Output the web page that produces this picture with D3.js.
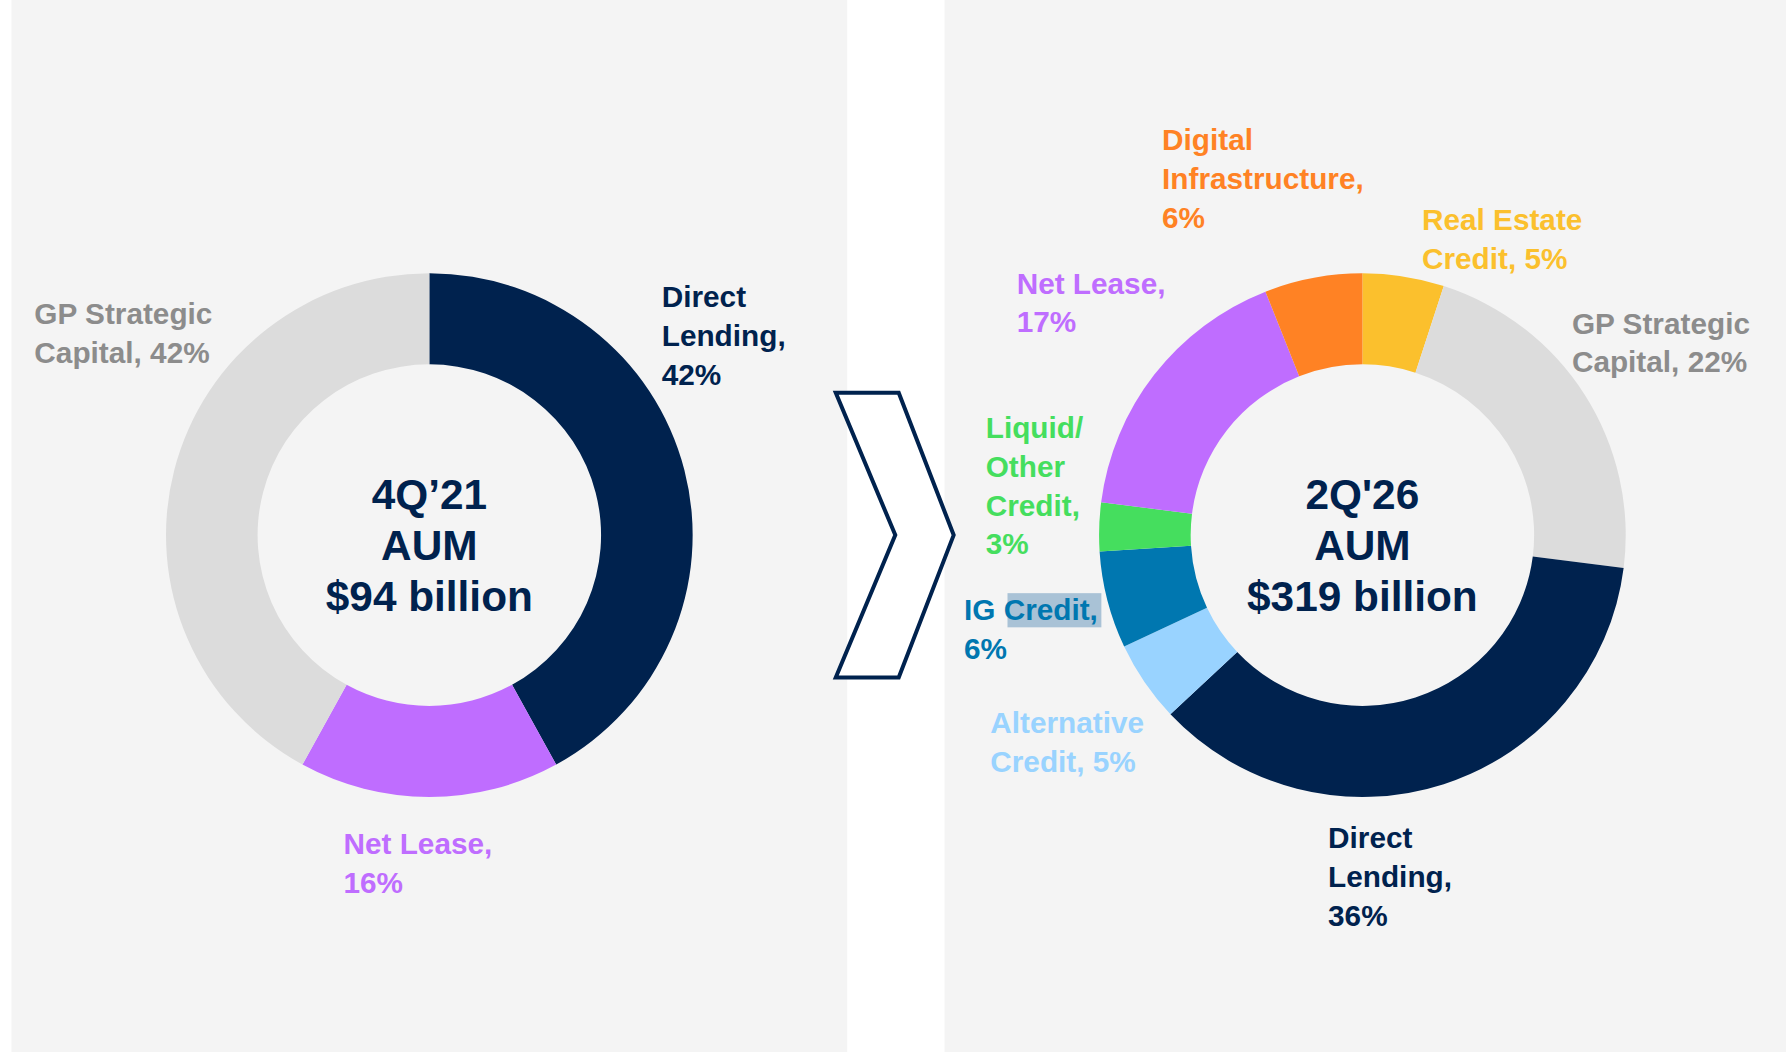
<!DOCTYPE html>
<html><head><meta charset="utf-8">
<script src="https://cdn.jsdelivr.net/npm/d3@7"></script>
<style>body{margin:0;background:#fff}text{font-family:"Liberation Sans",Arial,sans-serif;font-weight:bold}</style>
</head><body>
<script>
// data
const leftCats = ["Direct Lending", "Net Lease", "GP Strategic Capital"];
const leftVals = [42, 16, 42];
const leftColors = ["#00224e", "#bf6dff", "#dcdcdc"];
const rightCats = ["Real Estate Credit", "GP Strategic Capital", "Direct Lending", "Alternative Credit", "IG Credit", "Liquid/Other Credit", "Net Lease", "Digital Infrastructure"];
const rightVals = [5, 22, 36, 5, 6, 3, 17, 6];
const rightColors = ["#fbc02d", "#dcdcdc", "#00224e", "#99d3ff", "#0077b0", "#45de5e", "#bf6dff", "#ff8224"];
const leftCenter = ["4Q\u201921", "AUM", "$94 billion"];
const rightCenter = ["2Q'26", "AUM", "$319 billion"];

const leftLabels = [
  {lines: ["GP Strategic", "Capital, 42%"], x: 30, y: 285, c: "#8c8c8c"},
  {lines: ["Direct", "Lending,", "42%"], x: 578, y: 270, c: "#00224e"},
  {lines: ["Net Lease,", "16%"], x: 300, y: 750, c: "#bf6dff"}
];
const rightLabels = [
  {lines: ["Digital", "Infrastructure,", "6%"], x: 1015, y: 132, c: "#ff8224"},
  {lines: ["Real Estate", "Credit, 5%"], x: 1242, y: 202, c: "#fbc02d"},
  {lines: ["Net Lease,", "17%"], x: 888, y: 258, c: "#bf6dff"},
  {lines: ["GP Strategic", "Capital, 22%"], x: 1373, y: 293, c: "#8c8c8c"},
  {lines: ["Liquid/", "Other", "Credit,", "3%"], x: 861, y: 385, c: "#45de5e"},
  {lines: ["IG Credit,", "6%"], x: 842, y: 545, c: "#0077b0"},
  {lines: ["Alternative", "Credit, 5%"], x: 865, y: 644, c: "#99d3ff"},
  {lines: ["Direct", "Lending,", "36%"], x: 1160, y: 745, c: "#00224e"}
];

const W = 1560, H = 924;
const svg = d3.select("body").append("svg")
  .attr("width", 1786).attr("height", 1052)
  .attr("viewBox", `0 0 ${W} ${H}`)
  .attr("preserveAspectRatio", "none");

svg.append("rect").attr("x", 10).attr("y", 0).attr("width", 730).attr("height", H).attr("fill", "#f4f4f4");
svg.append("rect").attr("x", 825).attr("y", 0).attr("width", 735).attr("height", H).attr("fill", "#f4f4f4");

const pie = d3.pie().sort(null).value(d => d);
const arc = d3.arc().innerRadius(150).outerRadius(230);

function donut(cx, vals, colors, center, labels) {
  const g = svg.append("g").attr("transform", `translate(${cx},470)`);
  g.selectAll("path").data(pie(vals)).enter().append("path")
    .attr("d", arc).attr("fill", (d, i) => colors[i]);
  g.selectAll("text.c").data(center).enter().append("text")
    .attr("class", "c").attr("text-anchor", "middle")
    .attr("y", (d, i) => -36 + i * 45).attr("font-size", 37).attr("fill", "#00224e")
    .attr("dominant-baseline", "central").text(d => d);
  labels.forEach(l => {
    const t = svg.append("text").attr("x", l.x).attr("y", l.y).attr("font-size", 26).attr("fill", l.c);
    l.lines.forEach((s, i) => t.append("tspan").attr("x", l.x).attr("dy", i ? 34 : 0).text(s));
  });
}

// selection highlight behind "Credit" in IG label
svg.append("rect").attr("x", 880).attr("y", 521).attr("width", 82).attr("height", 30).attr("fill", "#a9c2d6");

donut(375, leftVals, leftColors, leftCenter, leftLabels);
donut(1190, rightVals, rightColors, rightCenter, rightLabels);

svg.append("polygon")
  .attr("points", "730,345 785,345 833,470 785,595 730,595 782,470")
  .attr("fill", "#fff").attr("stroke", "#00224e").attr("stroke-width", 3.5);
</script>
</body></html>
